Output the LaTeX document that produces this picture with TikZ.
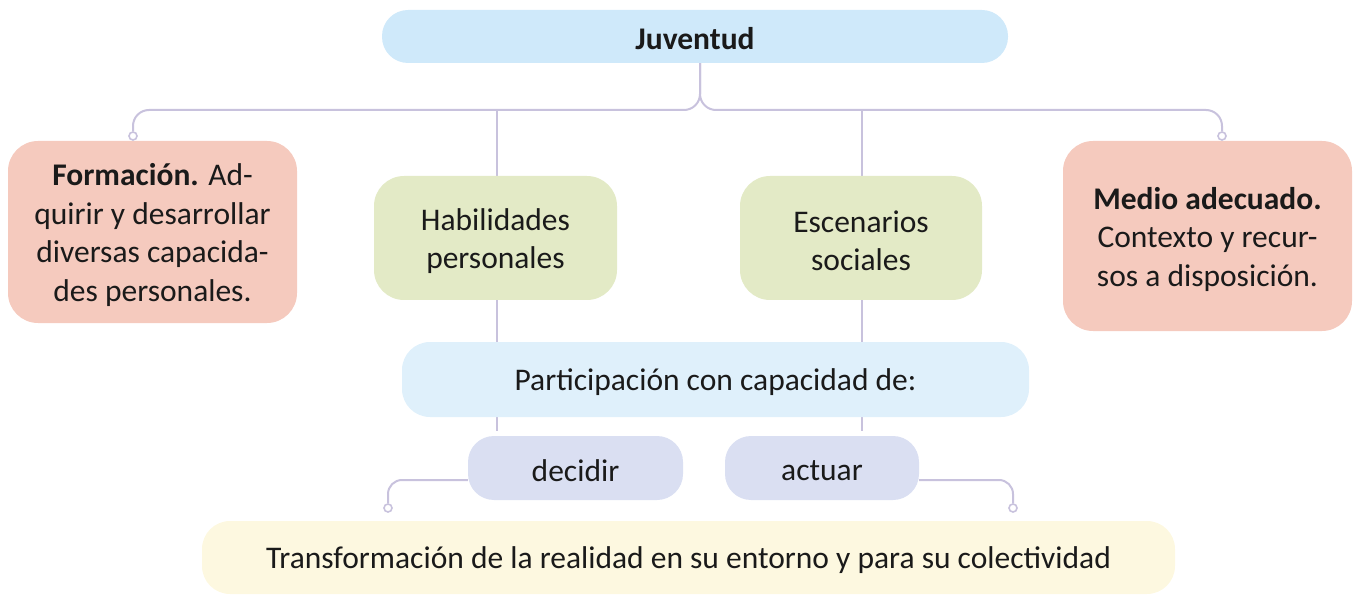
\documentclass[tikz,border=0pt]{standalone}
\usepackage{fontspec}
\setmainfont{Carlito}
\usetikzlibrary{backgrounds}
\definecolor{cJ}{HTML}{CFE9FA}
\definecolor{cP}{HTML}{DFF0FB}
\definecolor{cF}{HTML}{F5CABE}
\definecolor{cH}{HTML}{E3EAC6}
\definecolor{cD}{HTML}{DADFF2}
\definecolor{cT}{HTML}{FDF8E0}
\definecolor{cL}{HTML}{C8C2DD}
\definecolor{cTx}{HTML}{1A1A1A}
\tikzset{
  box/.style={rounded corners=#1, inner sep=0pt},
  box/.default=28,
  lab/.style={align=center, text=cTx, inner sep=0pt, yshift=-3pt,
    font=\fontsize{31.5}{38.5}\selectfont},
  conn/.style={draw=cL, line width=2pt},
  dot/.style={circle, draw=cL, line width=1.6pt, fill=white, inner sep=0pt, minimum size=8pt},
}
\begin{document}
\begin{tikzpicture}[x=1pt,y=-1pt]
\useasboundingbox (0,0) rectangle (1353,596);
% nodes
\node[box=26, fill=cJ, minimum width=626pt, minimum height=53pt,
  label={[lab, yshift=1pt]center:\textbf{Juventud}}] (J) at (695,36.5) {};
\node[box=30, fill=cF, minimum width=289pt, minimum height=182pt,
  label={[lab]center:{\textbf{Formación.} Ad-\\quirir y desarrollar\\diversas capacida-\\des personales.}}] (F) at (152.5,232) {};
\node[box=30, fill=cH, minimum width=243pt, minimum height=124pt,
  label={[lab]center:{Habilidades\\personales}}] (H) at (495.5,238) {};
\node[box=30, fill=cH, minimum width=242pt, minimum height=124pt,
  label={[lab]center:{Escenarios\\sociales}}] (E) at (861,238) {};
\node[box=30, fill=cF, minimum width=289pt, minimum height=190pt,
  label={[lab]center:{\textbf{Medio adecuado.}\\Contexto y recur-\\sos a disposición.}}] (M) at (1207.5,236) {};
\node[box=28, fill=cP, minimum width=627pt, minimum height=75pt,
  label={[lab]center:{Participación con capacidad de:}}] (P) at (715.5,379.5) {};
\node[box=26, fill=cD, minimum width=215pt, minimum height=64pt,
  label={[lab]center:decidir}] (D) at (575.5,468) {};
\node[box=26, fill=cD, minimum width=194pt, minimum height=64pt,
  label={[lab]center:actuar}] (A) at (822,468) {};
\node[box=28, fill=cT, minimum width=973pt, minimum height=73pt,
  label={[lab]center:{Transformación de la realidad en su entorno y para su colectividad}}] (T) at (688.5,557.5) {};
% end dots
\node[dot] (dF) at (133,136) {};
\node[dot] (dM) at (1222,136) {};
\node[dot] (dD) at (388,508) {};
\node[dot] (dA) at (1013,508) {};
% hub coordinates
\coordinate (hub) at (700,110);
\coordinate (hH) at (497,110);
\coordinate (hE) at (862,110);
\coordinate (sH) at (497,431);
\coordinate (sE) at (862,431);
\begin{scope}[on background layer]
\draw[conn, rounded corners=16] (J.south -| hub) -- (hub) -| (dF.north);
\draw[conn, rounded corners=16] (J.south -| hub) -- (hub) -| (dM.north);
\draw[conn] (hH) -- (sH);
\draw[conn] (hE) -- (sE);
\draw[conn, rounded corners=14] (D.west |- 0,480) -| (dD.north);
\draw[conn, rounded corners=14] (A.east |- 0,480) -| (dA.north);
\end{scope}
\end{tikzpicture}
\end{document}
